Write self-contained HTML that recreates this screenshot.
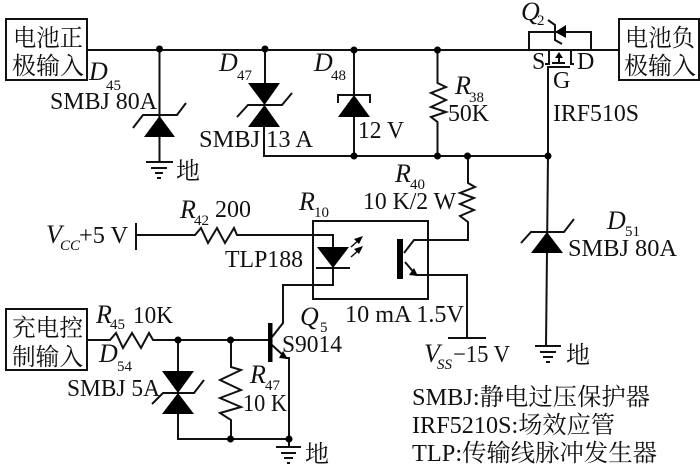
<!DOCTYPE html>
<html><head><meta charset="utf-8"><style>
html,body{margin:0;padding:0;background:#fff;width:700px;height:465px;overflow:hidden}
svg{display:block}
text{font-family:"Liberation Serif","Noto Serif CJK SC",serif;fill:#111;font-size:24px}
.i{font-style:italic;font-size:26px}
.s{font-size:15px;font-style:normal}
.si{font-size:15px;font-style:italic}
.c{font-size:24px}
</style></head><body>
<svg width="700" height="465" viewBox="0 0 700 465" xmlns="http://www.w3.org/2000/svg">
<g fill="none" stroke="#111" stroke-width="2">
<rect x="6" y="19" width="81" height="61"/>
<rect x="619" y="19" width="80" height="61"/>
<rect x="6" y="309" width="81" height="61"/>
<path d="M87 50H619"/>
<path d="M159.500 50V162M265 50V83M354 50V96M437.500 50V83L446 87L431 93L446 100L431 107L446 112L431 117L437.500 122V156M264 127V156H548M354 117V156"/>
<path d="M133 128L143 115H177L186 103"/>
<path d="M237 117L248 105H282L292 93"/>
<path d="M338 103V95H370V103"/>
<path d="M468 156V183L475 187L460 193L474 198L460 204L474 210L460 216L468 222V240H414L404 253"/>
<path d="M405 262L416 275H467V338M448 338H486" />
<rect x="313" y="221" width="115" height="78"/>
<path d="M136 235H195L201 228L208 243L217 228L225 243L234 228L237 235H333V285H283V323L272 337"/>
<path d="M136 223V250"/>
<path d="M316 268H350"/>
<path d="M87 340H110L116 333L123 348L132 333L141 348L149 333L153 340H268"/>
<path d="M272 345L286 358H289V447"/>
<path d="M178 340V371M178 413V439H289"/>
<path d="M152 404L163 393H194L204 380"/>
<path d="M231 340V367L241 370L220 380L241 390L220 398L241 407L220 413L231 420V439"/>
<path d="M529 50V32H591V50"/>
<path d="M548 20L555 25V40L562 44"/>
<path d="M549 50V64H545M571 50V64H574M552 63H565"/>
<path d="M559 62V56"/>
<path d="M570 67H548V156L546 346"/>
<path d="M521 243L531 232H564L574 219"/>
<path d="M146 162H173M151 168H167M155 173H163M157 178H161"/>
<path d="M276 447H301M281 453H296M284 458H293M287 463H290"/>
<path d="M535 346H561M540 352H556M543 357H553M546 362H550"/>
<path d="M351 247L360 239M351 257L360 249" stroke-width="1.5"/>
</g>
<g fill="#000" stroke="none">
<path d="M159.500 116L175 137H144Z"/>
<path d="M248 83H280L264.500 105ZM264.500 105L280 127H248Z"/>
<path d="M354 95L370 117H338Z"/>
<path d="M317 247H349L333 268Z"/>
<path d="M162 371H194L178 393ZM178 393L194 414H162Z"/>
<path d="M547 232L563 253H531Z"/>
<path d="M555 32L566 25V38Z"/>
<path d="M559 52L563 58H555Z"/>
<path d="M418 276L409 275L414 268Z"/>
<path d="M288 359L279 358L283 351Z"/>
<path d="M363 236L359 244L354 239ZM363 246L359 254L354 249Z"/>
<rect x="397" y="239" width="6" height="40"/>
<rect x="268" y="323" width="4.500" height="39"/>
<circle cx="159.500" cy="49" r="3.500"/><circle cx="265" cy="49" r="3.500"/><circle cx="354" cy="50" r="3.500"/><circle cx="437.500" cy="50" r="3.500"/>
<circle cx="354" cy="156" r="3.500"/><circle cx="437.500" cy="156" r="3.500"/><circle cx="467.500" cy="156" r="3.500"/><circle cx="548" cy="156" r="3.500"/>
<circle cx="178" cy="340" r="3.500"/><circle cx="230.500" cy="340" r="3.500"/><circle cx="230.500" cy="439" r="3.500"/><circle cx="289" cy="439" r="3.500"/>
</g>
<text class="c" x="13" y="46" textLength="70" lengthAdjust="spacingAndGlyphs">电池正</text>
<text class="c" x="12" y="74" textLength="72" lengthAdjust="spacingAndGlyphs">极输入</text>
<text class="c" x="625" y="46" textLength="70" lengthAdjust="spacingAndGlyphs">电池负</text>
<text class="c" x="624" y="74" textLength="72" lengthAdjust="spacingAndGlyphs">极输入</text>
<text class="c" x="12" y="336" textLength="71" lengthAdjust="spacingAndGlyphs">充电控</text>
<text class="c" x="12" y="365" textLength="71" lengthAdjust="spacingAndGlyphs">制输入</text>
<text class="i" x="89" y="80">D</text><text class="s" x="106" y="90">45</text>
<text x="50" y="109" textLength="107" lengthAdjust="spacingAndGlyphs">SMBJ 80A</text>
<text x="176" y="179">地</text>
<text class="i" x="219" y="71">D</text><text class="s" x="237" y="80">47</text>
<text x="199" y="147" textLength="114" lengthAdjust="spacingAndGlyphs">SMBJ 13 A</text>
<text class="i" x="314" y="71">D</text><text class="s" x="331" y="80">48</text>
<text x="358" y="138" textLength="46" lengthAdjust="spacingAndGlyphs">12 V</text>
<text class="i" x="455" y="94">R</text><text class="s" x="469" y="102">38</text>
<text x="448" y="121" textLength="41" lengthAdjust="spacingAndGlyphs">50K</text>
<text class="i" x="521" y="20">Q</text><text class="s" x="537" y="25">2</text>
<text x="532" y="69">S</text><text x="577" y="69">D</text><text x="553" y="88">G</text>
<text x="553" y="121" textLength="86" lengthAdjust="spacingAndGlyphs">IRF510S</text>
<text class="i" x="395" y="182">R</text><text class="s" x="410" y="189">40</text>
<text x="363" y="209" textLength="93" lengthAdjust="spacingAndGlyphs">10 K/2 W</text>
<text class="i" x="299" y="210">R</text><text class="s" x="314" y="217">10</text>
<text class="i" x="180" y="218">R</text><text class="s" x="194" y="225">42</text>
<text x="215" y="217" textLength="36" lengthAdjust="spacingAndGlyphs">200</text>
<text class="i" x="46" y="243">V</text><text class="si" x="60" y="250">CC</text>
<text x="79" y="243" textLength="49" lengthAdjust="spacingAndGlyphs">+5 V</text>
<text x="225" y="267" textLength="78" lengthAdjust="spacingAndGlyphs">TLP188</text>
<text x="345" y="322" textLength="119" lengthAdjust="spacingAndGlyphs">10 mA 1.5V</text>
<text class="i" x="300" y="325">Q</text><text class="s" x="320" y="332">5</text>
<text x="282" y="352" textLength="60" lengthAdjust="spacingAndGlyphs">S9014</text>
<text class="i" x="96" y="323">R</text><text class="s" x="110" y="329">45</text>
<text x="133" y="323" textLength="40" lengthAdjust="spacingAndGlyphs">10K</text>
<text class="i" x="99" y="362">D</text><text class="s" x="117" y="371">54</text>
<text x="67" y="396" textLength="93" lengthAdjust="spacingAndGlyphs">SMBJ 5A</text>
<text class="i" x="250" y="383">R</text><text class="s" x="265" y="390">47</text>
<text x="243" y="411" textLength="44" lengthAdjust="spacingAndGlyphs">10 K</text>
<text x="305" y="462">地</text>
<text class="i" x="424" y="362">V</text><text class="si" x="437" y="369">SS</text>
<text x="453" y="362" textLength="57" lengthAdjust="spacingAndGlyphs">−15 V</text>
<text class="i" x="607" y="229">D</text><text class="s" x="625" y="236">51</text>
<text x="568" y="256" textLength="109" lengthAdjust="spacingAndGlyphs">SMBJ 80A</text>
<text x="566" y="363">地</text>
<text x="412" y="405" textLength="238" lengthAdjust="spacingAndGlyphs">SMBJ:静电过压保护器</text>
<text x="412" y="433" textLength="203" lengthAdjust="spacingAndGlyphs">IRF5210S:场效应管</text>
<text x="412" y="461" textLength="245" lengthAdjust="spacingAndGlyphs">TLP:传输线脉冲发生器</text>
</svg>
</body></html>
